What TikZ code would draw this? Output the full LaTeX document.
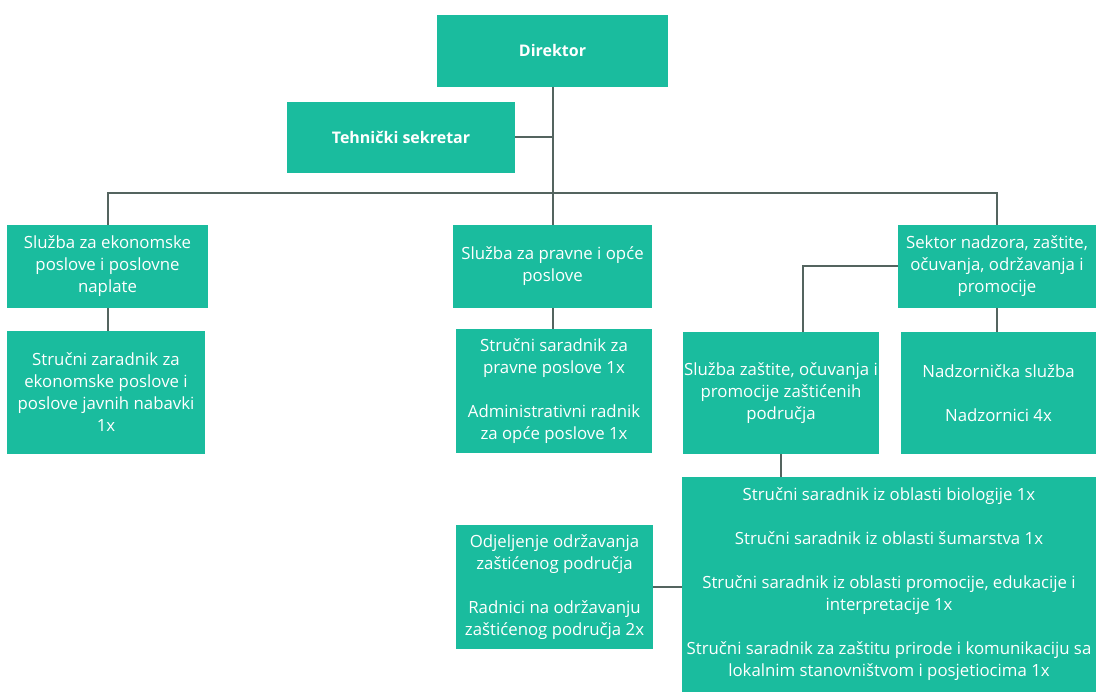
\documentclass[tikz,border=0pt]{standalone}
\usepackage{fontspec}
\setmainfont{Open Sans}
\usetikzlibrary{calc}
\definecolor{tealbox}{RGB}{26,188,158}
\definecolor{conn}{RGB}{84,100,95}
\tikzset{
  orgbox/.style={fill=tealbox, draw=none, text=white, align=center, inner sep=0pt,
    font=\fontsize{16.8}{22}\selectfont},
  headbox/.style={orgbox, font=\fontsize{16}{22}\selectfont\bfseries},
  link/.style={draw=conn, line width=2pt}
}
\begin{document}
\begin{tikzpicture}[x=1pt,y=-1pt]
\useasboundingbox (0,0) rectangle (1096,692);
\fill[white] (0,0) rectangle (1096,692);
% boxes
\node[headbox, minimum width=231, minimum height=72] (dir) at (552.5,51) {Direktor};
\node[headbox, minimum width=228, minimum height=71] (teh) at (401,137.5) {Tehnički sekretar};
\node[orgbox, minimum width=201, minimum height=83] (eko) at (107.5,266.5) {Služba za ekonomske\\poslove i poslovne\\naplate};
\node[orgbox, minimum width=198, minimum height=123] (ekos) at (106,392.5) {Stručni zaradnik za\\ekonomske poslove i\\poslove javnih nabavki\\1x};
\node[orgbox, minimum width=199, minimum height=83] (prav) at (552.5,266.5) {Služba za pravne i opće\\poslove};
\node[orgbox, minimum width=196, minimum height=124] (pravs) at (554,391) {Stručni saradnik za\\pravne poslove 1x\\[22pt]Administrativni radnik\\za opće poslove 1x};
\node[orgbox, minimum width=198, minimum height=83] (sek) at (997,266.5) {Sektor nadzora, zaštite,\\očuvanja, održavanja i\\promocije};
\node[orgbox, minimum width=196, minimum height=122] (zas) at (781,393) {Služba zaštite, očuvanja i\\promocije zaštićenih\\područja};
\node[orgbox, minimum width=195, minimum height=122] (nad) at (998.5,393) {Nadzornička služba\\[22pt]Nadzornici 4x};
\node[orgbox, minimum width=414, minimum height=215] (big) at (889,584.5) {Stručni saradnik iz oblasti biologije 1x\\[22pt]Stručni saradnik iz oblasti šumarstva 1x\\[22pt]Stručni saradnik iz oblasti promocije, edukacije i\\interpretacije 1x\\[22pt]Stručni saradnik za zaštitu prirode i komunikaciju sa\\lokalnim stanovništvom i posjetiocima 1x};
\node[orgbox, minimum width=197, minimum height=124] (odj) at (554.5,587) {Odjeljenje održavanja\\zaštićenog područja\\[22pt]Radnici na održavanju\\zaštićenog područja 2x};
% connectors
\coordinate (bus) at (553,193);
\coordinate (zasin) at ($(zas.north)+(22,0)$);
\draw[link] (dir.south) -- (dir.south |- bus);
\draw[link] (teh.east) -- (dir.south |- teh.east);
\draw[link] (eko.north) -- (eko.north |- bus) -- (sek.north |- bus) -- (sek.north);
\draw[link] (prav.north |- bus) -- (prav.north);
\draw[link] (eko.south) -- (eko.south |- ekos.north);
\draw[link] (prav.south) -- (prav.south |- pravs.north);
\draw[link] (sek.west) -| (zasin);
\draw[link] (sek.south) -- (sek.south |- nad.north);
\draw[link] (zas.south) -- (zas.south |- big.north);
\draw[link] (odj.east) -- (big.west |- odj.east);
\end{tikzpicture}
\end{document}
